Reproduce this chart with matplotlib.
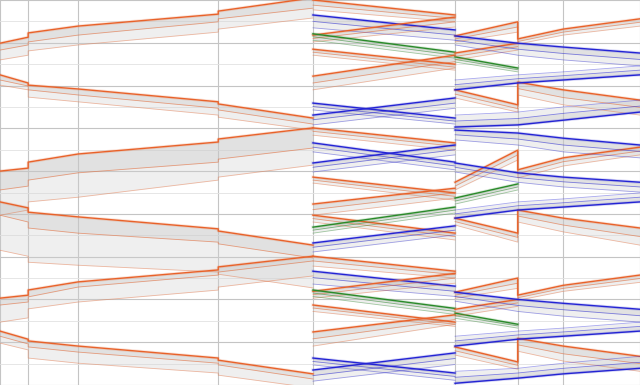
import matplotlib
matplotlib.use('Agg')
import matplotlib.pyplot as plt

# Точки излома по оси X
x_breaks = [0, 4.4, 12.2, 34.1, 48.9, 71.1, 80.9, 88.0, 100]

ORANGE = '#e8622a'
BLUE = '#2424d4'
GREEN = '#2a8a2a'

# Левая часть: оранжевые полосы (со ступеньками на 4.4 и 34.1)
x_left = [0, 4.4, 4.4, 12.2, 34.1, 34.1, 48.9]
left_main = [
    [10.1, 8.7, 7.7, 6.1, 3.3, 2.6, -0.5],
    [17.5, 19.4, 19.9, 20.8, 23.8, 24.3, 27.6],
    [40.0, 39.3, 37.9, 36.0, 33.2, 32.5, 29.9],
    [47.2, 48.6, 49.6, 50.7, 53.5, 54.0, 57.3],
    [69.7, 69.0, 67.8, 65.9, 63.1, 62.4, 59.9],
    [77.4, 79.3, 79.7, 80.9, 83.7, 84.2, 87.4],
]
left_inner = [
    [11.7, 10.5, 9.8, 8.2, 5.1, 4.4, 1.9],
    [18.7, 20.1, 21.0, 22.2, 25.3, 25.7, 29.0],
    [44.4, 43.5, 42.1, 40.4, 37.9, 37.2, 34.6],
    [50.3, 51.9, 53.3, 54.5, 56.6, 57.0, 60.3],
    [71.3, 70.6, 69.4, 67.1, 64.3, 63.6, 61.0],
    [78.6, 80.4, 81.1, 82.3, 84.9, 85.3, 88.6],
]
left_outer = [
    [14.0, 12.9, 11.9, 10.5, 7.5, 6.8, 4.2],
    [19.9, 21.0, 22.7, 23.8, 26.9, 27.4, 30.4],
    [50.3, 49.1, 47.2, 46.1, 42.1, 41.4, 38.6],
    [58.5, 59.9, 61.3, 62.0, 63.6, 64.1, 67.3],
    [75.3, 74.3, 72.2, 70.6, 67.8, 67.1, 64.5],
    [80.2, 81.8, 83.7, 84.9, 87.2, 87.7, 90.7],
]

# Участок 48.9 -> 71.1
x_s1 = [48.9, 71.1]
s1_colors = [ORANGE, BLUE, ORANGE, GREEN, ORANGE, ORANGE, BLUE, BLUE,
             ORANGE, BLUE, BLUE, ORANGE, ORANGE, ORANGE, GREEN, BLUE,
             ORANGE, BLUE, ORANGE, GREEN, ORANGE, ORANGE, BLUE, BLUE]
s1_main = [
    [0.0, 3.5], [3.5, 7.0], [8.2, 4.0], [7.9, 12.2], [11.5, 15.0], [17.8, 12.9], [24.1, 27.6], [26.9, 22.9],
    [29.9, 33.4], [33.4, 37.9], [38.1, 33.9], [41.4, 45.1], [47.7, 44.0], [50.3, 54.5], [53.1, 48.4], [56.8, 52.8],
    [59.9, 63.4], [63.4, 66.9], [68.1, 63.9], [67.8, 72.1], [71.3, 75.3], [77.6, 73.6], [83.7, 87.2], [86.5, 82.5],
]
s1_inner = [
    [1.2, 4.3], [5.0, 8.2], [9.0, 5.1], [8.6, 12.9], [12.2, 15.7], [19.4, 14.4], [24.9, 28.3], [28.0, 24.1],
    [30.7, 34.2], [34.4, 38.8], [39.1, 35.0], [42.1, 45.9], [49.0, 45.1], [51.1, 55.3], [53.8, 49.1], [57.8, 53.8],
    [61.0, 64.2], [64.9, 68.1], [68.9, 65.0], [68.5, 72.8], [72.0, 75.8], [79.2, 74.7], [84.5, 88.0], [87.8, 83.8],
]
s1_outer = [
    [2.3, 5.1], [6.5, 9.4], [9.8, 6.3], [9.4, 13.6], [12.9, 16.4], [21.0, 15.9], [25.7, 29.0], [29.2, 25.3],
    [31.6, 35.1], [35.5, 39.7], [40.2, 36.2], [42.8, 46.8], [50.3, 46.3], [51.9, 56.1], [54.5, 49.8], [58.9, 54.9],
    [62.2, 65.0], [66.4, 69.3], [69.7, 66.2], [69.3, 73.5], [72.8, 76.3], [80.9, 75.8], [85.3, 88.9], [89.1, 85.2],
]

# Участок 71.1 -> 80.9 (заканчиваются на 80.9)
x_s2 = [71.1, 80.9]
s2_colors = [GREEN, ORANGE, GREEN, GREEN, ORANGE]
s2_main = [[13.3, 15.9], [12.4, 10.1], [46.3, 43.0], [73.2, 75.8], [72.3, 70.0]]
s2_inner = [[13.9, 16.3], [13.2, 10.9], [47.0, 43.7], [73.8, 76.2], [73.1, 70.8]]
s2_outer = [[14.5, 16.8], [14.0, 11.7], [47.7, 44.4], [74.4, 76.7], [73.9, 71.6]]

# Оранжевые линии 71.1 -> 100 со скачком на 80.9
x_s3 = [71.1, 80.9, 80.9, 88.0, 100]
s3_main = [
    [8.4, 5.1, 9.1, 6.8, 4.4], [21.0, 24.5, 19.2, 21.0, 23.4],
    [42.6, 35.1, 39.7, 36.9, 34.4], [51.0, 54.5, 49.1, 51.0, 53.3],
    [68.3, 65.0, 69.0, 66.7, 64.3], [81.1, 84.6, 79.1, 80.9, 83.3],
]
s3_inner = [
    [9.1, 6.3, 9.7, 7.5, 5.2], [22.0, 25.4, 20.7, 22.8, 25.1],
    [43.5, 36.2, 40.6, 37.8, 35.3], [51.8, 55.5, 50.5, 52.6, 55.3],
    [69.0, 66.2, 69.6, 67.4, 65.1], [82.0, 85.4, 80.6, 82.7, 85.0],
]
s3_outer = [
    [9.8, 7.5, 10.3, 8.2, 6.1], [22.9, 26.2, 22.2, 24.5, 26.9],
    [44.4, 37.4, 41.6, 38.8, 36.2], [52.6, 56.6, 51.9, 54.2, 57.3],
    [69.7, 67.4, 70.2, 68.1, 66.0], [83.0, 86.3, 82.1, 84.4, 86.8],
]

# Синие линии, идущие от 71.1 до 100 без разрыва
x_s23 = [71.1, 80.9, 88.0, 100]
s23_main = [
    [8.4, 10.1, 11.0, 12.4], [21.0, 19.4, 18.7, 17.5], [29.7, 29.2, 28.1, 26.2],
    [30.4, 31.1, 32.3, 33.9], [38.1, 40.4, 41.4, 42.6], [51.0, 49.1, 48.4, 47.2],
    [68.3, 70.0, 70.9, 72.3], [80.9, 79.3, 78.6, 77.4], [89.6, 88.4, 87.4, 86.1],
]
s23_inner = [
    [9.4, 11.5, 12.5, 13.9], [19.8, 18.4, 17.7, 16.4], [28.3, 27.7, 26.5, 24.8],
    [31.5, 32.5, 33.9, 35.4], [39.1, 41.5, 42.5, 43.7], [50.0, 48.1, 47.4, 46.1],
    [69.3, 71.4, 72.4, 73.8], [79.7, 78.3, 77.6, 76.3], [88.2, 87.2, 86.1, 84.7],
]
s23_outer = [
    [10.5, 12.9, 14.0, 15.4], [18.7, 17.5, 16.8, 15.4], [26.9, 26.2, 25.0, 23.4],
    [32.7, 33.9, 35.5, 36.9], [40.2, 42.6, 43.7, 44.9], [49.1, 47.2, 46.5, 45.1],
    [70.4, 72.8, 73.9, 75.3], [78.6, 77.4, 76.7, 75.3], [86.8, 86.1, 84.9, 83.3],
]


def draw_band(ax, x, main, inner, outer, color):
    ax.fill_between(x, main, outer, color='#d2d2d2', alpha=0.35, lw=0)
    ax.fill_between(x, main, inner, color='#c2c2c2', alpha=0.3, lw=0)
    ax.plot(x, outer, color=color, lw=0.6, alpha=0.4)
    ax.plot(x, inner, color=color, lw=0.6, alpha=0.55)
    ax.plot(x, main, color=color, lw=2.2, alpha=0.18)
    ax.plot(x, main, color=color, lw=1.0)


fig = plt.figure(figsize=(6.4, 3.85), dpi=100)
ax = fig.add_axes([0, 0, 1, 1])
ax.set_xlim(0, 100)
ax.set_ylim(90, 0)
ax.set_xticks(x_breaks)
ax.set_yticks(range(0, 91, 10))
ax.set_yticks(range(5, 90, 10), minor=True)
ax.grid(which='major', color='#c4c4c4', lw=0.8)
ax.grid(which='minor', axis='y', color='#e2e2e2', lw=0.6)
ax.set_axisbelow(True)
ax.tick_params(which='both', length=0, labelbottom=False, labelleft=False)
for s in ax.spines.values():
    s.set_visible(False)

for m, i, o in zip(left_main, left_inner, left_outer):
    draw_band(ax, x_left, m, i, o, ORANGE)
for c, m, i, o in zip(s1_colors, s1_main, s1_inner, s1_outer):
    draw_band(ax, x_s1, m, i, o, c)
for c, m, i, o in zip(s2_colors, s2_main, s2_inner, s2_outer):
    draw_band(ax, x_s2, m, i, o, c)
for m, i, o in zip(s3_main, s3_inner, s3_outer):
    draw_band(ax, x_s3, m, i, o, ORANGE)
for m, i, o in zip(s23_main, s23_inner, s23_outer):
    draw_band(ax, x_s23, m, i, o, BLUE)

fig.savefig('out.png', dpi=100)
